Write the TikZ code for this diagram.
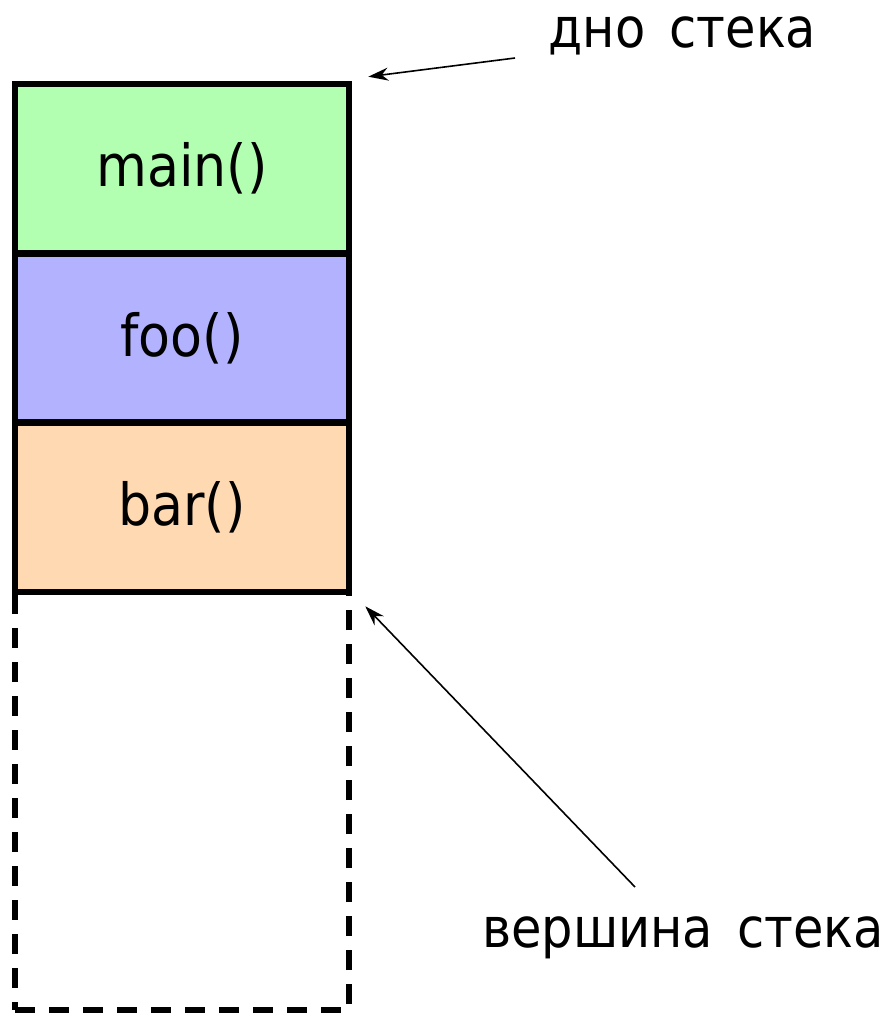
\documentclass[tikz,border=0pt]{standalone}
\usepackage{fontspec}
\setmainfont{DejaVu Sans}[FakeStretch=0.9]
\usetikzlibrary{arrows.meta}
\newcommand\wgap{\hspace{0.15em}}
\begin{document}
\begin{tikzpicture}[x=0.5pt,y=-0.5pt,
  frame/.style={draw=black, line width=3.3pt, minimum width=167pt,
    minimum height=84.5pt, inner sep=0pt, font=\fontsize{29}{34}\selectfont},
  freearea/.style={draw=black, line width=3.3pt, dash pattern=on 10pt off 7pt,
    minimum width=167pt, minimum height=209pt, inner sep=0pt},
  ptr/.style={-{Stealth[length=10pt,width=6.5pt]}, line width=0.8pt},
  lbl/.style={font=\fontsize{27.5}{32}\selectfont, inner sep=0pt, anchor=base}]
\useasboundingbox (0,0) rectangle (890,1018);

% unused part of the stack
\node[freearea] (free) at (182,801) {};

% stack frames
\node[frame, fill=green!30]  (main) at (182,168.5) {main()};
\node[frame, fill=blue!30]   (foo)  at (182,338)   {foo()};
\node[frame, fill=orange!30] (bar)  at (182,507.5) {bar()};

% labels
\node[lbl] (bottomlbl) at (682.5,47) {дно \wgap стека};
\node[lbl] (toplbl)    at (683,947)  {вершина \wgap стека};

% pointers
\coordinate (bstart) at (515,58);
\coordinate (bend)   at ([shift={(16,-4)}]main.north east);
\coordinate (tstart) at (635,887);
\coordinate (tend)   at ([shift={(13,11)}]bar.south east);
\draw[ptr] (bstart) -- (bend);
\draw[ptr] (tstart) -- (tend);
\end{tikzpicture}
\end{document}
